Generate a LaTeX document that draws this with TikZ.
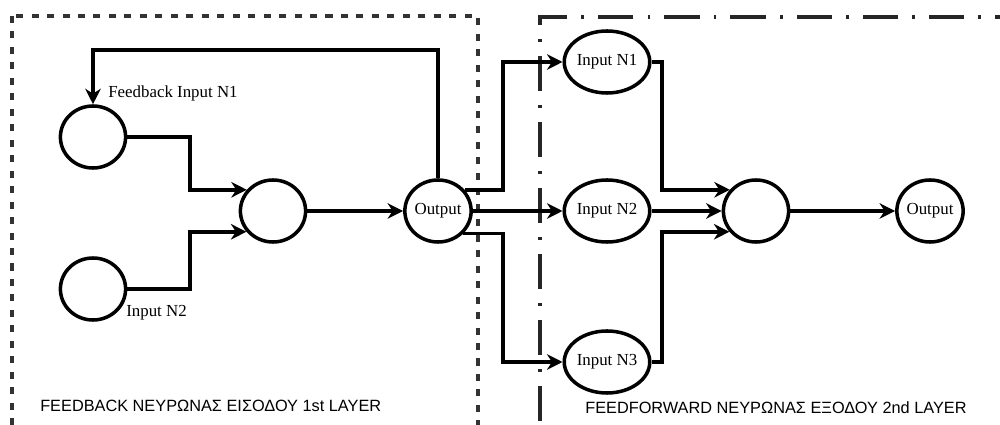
\documentclass[tikz,border=0pt]{standalone}
\usepackage{fontspec}
\setmainfont{Liberation Serif}
\newfontfamily\labelfont{Liberation Sans}
\usetikzlibrary{shapes.geometric,arrows.meta}
\begin{document}
\begin{tikzpicture}[x=0.025cm,y=-0.025cm,
  neuron/.style={ellipse,draw,line width=2.5pt,minimum width=1.63cm,minimum height=1.55cm,inner sep=0pt,font=\fontsize{12}{12}\selectfont},
  conn/.style={line width=2.5pt,-{Stealth[length=11pt,width=11pt,inset=3.5pt]}},
  lbl/.style={anchor=west,inner sep=0pt,font=\fontsize{12}{12}\selectfont},
  boxlbl/.style={anchor=west,inner sep=0pt,font=\labelfont\fontsize{11.6}{12}\selectfont},
  fbbox/.style={line width=2.4pt,dash pattern=on 5pt off 6pt,draw=black!80},
  ffbox/.style={line width=2.4pt,dash pattern=on 25pt off 10pt on 2pt off 10pt,draw=black!85}
  ]
\useasboundingbox (0,0) rectangle (1000,425);
\fill[white] (0,0) rectangle (1000,425);
\clip (0,0) rectangle (1000,425);

% boxes
\draw[fbbox] (12,16) rectangle (478,445);
\draw[ffbox] (1030,17) -- (540,17) -- (540,445);

% first layer
\node[neuron] (fb1) at (93,137) {};
\node[neuron] (in2a) at (93,289) {};
\node[neuron] (hid1) at (273,211) {};
\node[neuron] (out1) at (438,211) {Output};

% second layer
\node[neuron] (in1b) at (607,62) {Input N1};
\node[neuron] (in2b) at (607,211) {Input N2};
\node[neuron] (in3b) at (607,362) {Input N3};
\node[neuron] (hid2) at (756,211) {};
\node[neuron] (out2) at (930,211) {Output};

% labels
\node[lbl] (tfb) at (108,93) {Feedback Input N1};
\node[lbl] (tin2) at (126,313) {Input N2};
\node[boxlbl] (t1) at (40,406) {FEEDBACK ΝΕΥΡΩΝΑΣ ΕΙΣΟΔΟΥ 1st LAYER};
\node[boxlbl] (t2) at (585,408) {FEEDFORWARD ΝΕΥΡΩΝΑΣ ΕΞΟΔΟΥ 2nd LAYER};

% helper coordinates
\coordinate (top) at (0,50);
\coordinate (xa) at (190,0);
\coordinate (xb) at (503,0);
\coordinate (xc) at (662,0);

% first layer connectors
\draw[conn] (out1.north) |- (fb1.north |- top) -- (fb1.north);
\draw[conn] (fb1.east) -- (fb1.east -| xa) |- (hid1.141);
\draw[conn] (in2a.east) -- (in2a.east -| xa) |- (hid1.218);
\draw[conn] (hid1.east) -- (out1.west);

% to second layer
\draw[conn] (out1.38) -- (out1.38 -| xb) |- (in1b.west);
\draw[conn] (out1.east) -- (in2b.west);
\draw[conn] (out1.-42) -- (out1.-42 -| xb) |- (in3b.west);

% second layer connectors
\draw[conn] (in1b.east) -- (in1b.east -| xc) |- (hid2.141);
\draw[conn] (in2b.east) -- (hid2.west);
\draw[conn] (in3b.east) -- (in3b.east -| xc) |- (hid2.218);
\draw[conn] (hid2.east) -- (out2.west);
\end{tikzpicture}
\end{document}
